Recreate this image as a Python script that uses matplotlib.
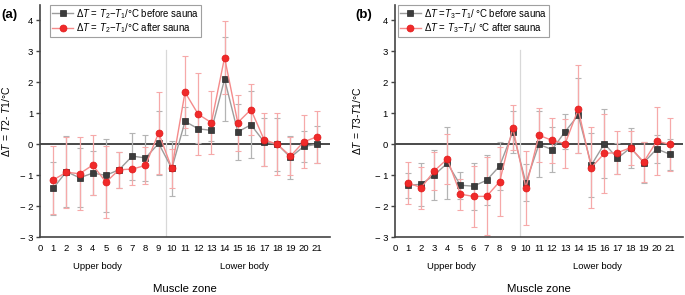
import matplotlib
matplotlib.use('Agg')
import matplotlib.pyplot as plt

plt.rcParams['font.family'] = ['Liberation Sans', 'DejaVu Sans']
plt.rcParams['mathtext.fontset'] = 'custom'
plt.rcParams['mathtext.rm'] = 'Liberation Sans'
plt.rcParams['mathtext.it'] = 'Liberation Sans:italic'

zones = list(range(1, 22))
x_ticks = list(range(0, 22))
y_ticks = [-3, -2, -1, 0, 1, 2, 3, 4]
y_tick_labels = ['\u2212 3', '\u2212 2', '\u2212 1', '0', '1', '2', '3', '4']

# panel (a): T2 - T1
a_before = [-1.42, -0.88, -1.08, -0.93, -1.0, -0.82, -0.38, -0.44, 0.03, -0.78, 0.74,
            0.5, 0.45, 2.1, 0.4, 0.63, 0.08, 0.0, -0.42, -0.07, 0.0]
a_before_err = [0.86, 1.14, 0.95, 0.72, 1.17, 0.58, 0.76, 0.74, 1.03, 0.9, 0.45,
                0.45, 0.35, 1.35, 0.9, 1.08, 0.78, 0.86, 0.7, 0.51, 0.6]
a_after = [-1.15, -0.9, -0.95, -0.67, -1.22, -0.82, -0.8, -0.68, 0.37, -0.78, 1.68,
           0.97, 0.7, 2.8, 0.7, 1.12, 0.15, 0.0, -0.38, 0.08, 0.24]
a_after_err = [1.1, 1.15, 1.18, 0.98, 1.15, 0.58, 0.5, 0.6, 1.33, 0.62, 1.16,
               1.33, 1.01, 1.18, 0.9, 0.81, 0.86, 1.0, 0.6, 0.85, 0.84]

# panel (b): T3 - T1
b_before = [-1.32, -1.29, -0.99, -0.61, -1.32, -1.35, -1.16, -0.7, 0.4, -1.24, 0.0,
            -0.17, 0.41, 0.94, -0.67, 0.02, -0.45, -0.11, -0.59, -0.15, -0.32]
b_before_err = [0.4, 0.7, 0.8, 1.17, 0.44, 0.76, 0.8, 0.78, 0.69, 0.6, 1.07,
                0.72, 0.56, 1.21, 1.03, 1.12, 0.5, 0.64, 0.65, 0.44, 0.5]
b_after = [-1.24, -1.4, -0.86, -0.47, -1.61, -1.68, -1.68, -1.2, 0.54, -1.4, 0.29,
           0.13, 0.02, 1.13, -0.75, -0.29, -0.27, -0.11, -0.57, 0.1, 0.0]
b_after_err = [0.67, 0.68, 0.61, 0.8, 0.5, 0.98, 1.26, 1.12, 0.72, 1.2, 0.87,
               0.73, 0.8, 1.42, 1.31, 1.28, 0.7, 0.55, 0.65, 1.1, 0.86]

split_x = 9.55


def draw_panel(ax, before, before_err, after, after_err, label_before, label_after, ylabel, leg_x):
    ax.axhline(0, color='#3a3a3a', lw=1.3, zorder=1)
    ax.plot([split_x, split_x], [-3, 3.05], color='#d8d8d8', lw=0.9, zorder=1)

    ax.errorbar(zones, before, yerr=before_err, fmt='none', ecolor='#b4b4b4',
                elinewidth=0.9, capsize=2, capthick=0.8, zorder=2)
    ax.errorbar(zones, after, yerr=after_err, fmt='none', ecolor='#f6a9a9',
                elinewidth=0.9, capsize=2, capthick=0.8, zorder=2)
    ax.plot(zones, before, color='#9c9c9c', lw=1.0, marker='s', ms=4.3,
            mfc='#3c3c3c', mec='#2a2a2a', mew=0.5, label=label_before, zorder=4)
    ax.plot(zones, after, color='#f58a8a', lw=1.0, marker='o', ms=5,
            mfc='#f02a2a', mec='#e01818', mew=0.5, label=label_after, zorder=5)

    ax.set_xlim(0, 22)
    ax.set_ylim(-3, 4.5)
    ax.set_xticks(x_ticks)
    ax.set_xticklabels([str(v) for v in x_ticks], fontsize=6.8)
    ax.tick_params(axis='x', which='major', length=0, pad=5)
    ax.set_xticks([0, 5, 10, 15, 20], minor=True)
    ax.tick_params(axis='x', which='minor', length=3.5, width=1, direction='out', color='#444444')
    ax.set_yticks(y_ticks)
    ax.set_yticklabels(y_tick_labels, fontsize=6.8)
    ax.tick_params(axis='y', length=3, width=1, color='#444444', pad=2)

    for s in ['top', 'right']:
        ax.spines[s].set_visible(False)
    for s in ['left', 'bottom']:
        ax.spines[s].set_color('#444444')
        ax.spines[s].set_linewidth(1.2)

    ax.text(4.35, -3.95, 'Upper body', ha='center', va='center', fontsize=6.8)
    ax.text(15.5, -3.95, 'Lower body', ha='center', va='center', fontsize=6.8)
    ax.set_xlabel('Muscle zone', fontsize=8.2, labelpad=22)
    ax.set_ylabel(ylabel, fontsize=7.5)

    leg = ax.legend(loc='upper left', bbox_to_anchor=(leg_x, 1.0), borderaxespad=0,
                    fontsize=6.9, frameon=True, fancybox=False, handlelength=2.2,
                    handletextpad=0.3, borderpad=0.2, labelspacing=0.05)
    leg.get_frame().set_edgecolor('#888888')
    leg.get_frame().set_linewidth(0.8)
    return ax


fig = plt.figure(figsize=(6.85, 2.95), dpi=100)
ax1 = fig.add_axes([0.0584, 0.1956, 0.4234, 0.788])
ax2 = fig.add_axes([0.5766, 0.1956, 0.4204, 0.788])

draw_panel(ax1, a_before, a_before_err, a_after, a_after_err,
           r'$\mathit{\Delta T}$ = $T_2$$-$$T_1$/°C before sauna',
           r'$\mathit{\Delta T}$ = $T_2$$-$$T_1$/°C after sauna',
           r'$\mathit{\Delta T}$ = $T2$- $T1$/°C', 0.035)
draw_panel(ax2, b_before, b_before_err, b_after, b_after_err,
           r'$\mathit{\Delta T}$ =$T_3$$-$$T_1$/ °C before sauna',
           r'$\mathit{\Delta T}$ = $T_3$$-$$T_1$/ °C after sauna',
           r'$\mathit{\Delta T}$ = $T3$-$T1$/°C', 0.01)

ax1.yaxis.set_label_coords(-0.098, 0.5)
ax2.yaxis.set_label_coords(-0.11, 0.5)

fig.text(0.002, 0.95, '(a)', fontsize=9.5, fontweight='bold', ha='left', va='center')
fig.text(0.519, 0.95, '(b)', fontsize=9.5, fontweight='bold', ha='left', va='center')

fig.savefig('out.png', dpi=100)
